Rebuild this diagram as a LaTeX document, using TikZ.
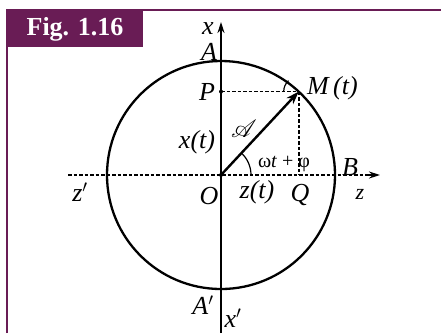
\documentclass[tikz,border=0pt]{standalone}
\usepackage{fontspec}
\usepackage{mathrsfs}
\setmainfont{Liberation Serif}
\usetikzlibrary{arrows.meta}
\definecolor{figpurple}{RGB}{105,28,85}
\begin{document}
\begin{tikzpicture}[x=1pt,y=-1pt,
  lbl/.style={font=\fontsize{26}{28}\selectfont\itshape, inner sep=0pt},
  axisline/.style={line width=1.6pt},
  dotline/.style={line width=1.6pt, dash pattern=on 3.5pt off 2pt},
  tip/.style={-{Stealth[length=11pt,width=7pt]}}]
\useasboundingbox (0,0) rectangle (441,333);
\fill[white] (0,0) rectangle (441,333);
% frame
\draw[figpurple, line width=2.2pt] (7,333) -- (7,10) -- (441,10);
\fill[figpurple] (6,9) rectangle (143,47);
\node[text=white, font=\fontsize{26}{28}\selectfont\bfseries, inner sep=0pt] (title) at (75,29) {Fig. 1.16};
% points
\coordinate (O) at (221,175);
\coordinate (M) at (298.7,91.6);
\coordinate (P) at (221,91.6);
\coordinate (Q) at (298.7,175);
\coordinate (xb) at (221,333);
\coordinate (xt) at (221,22);
\coordinate (zl) at (68,175);
\coordinate (zr) at (380,175);
% circle
\draw[line width=2.3pt] (O) circle[radius=114];
% axes
\draw[axisline, tip] (xb) -- (xt);
\draw[dotline] (zl) -- (366,175);
\draw[line width=1.6pt, tip] (366,175) -- (zr);
% projections
\draw[dotline] (P) -- (M);
\draw[dotline] (M) -- (Q);
\fill (P) circle[radius=2];
\fill (O) circle[radius=2];
% vector
\draw[line width=2.4pt, -{Stealth[length=13pt,width=9pt]}] (O) -- (M);
% angle arcs
\draw[line width=1.2pt] ([shift={(30,0)}]O) arc[start angle=0, end angle=-47, radius=30];
\draw[line width=1.2pt] ([shift={(-15,0)}]M) arc[start angle=180, end angle=227, radius=15];
% labels
\node[lbl] (lx) at (208,29) {x};
\node[lbl] (lA) at (209,52) {A};
\node[lbl] (lP) at (207,92) {P};
\node[lbl, anchor=west] (lM) at (307,88) {M\,(t)};
\node[lbl] (lxt) at (197,142) {x(t)};
\node[inner sep=0pt, font=\fontsize{28}{30}\selectfont] (lvec) at (244,129) {$\mathscr{A}$};
\node[inner sep=0pt, font=\fontsize{20}{22}\selectfont] (lang) at (284,164) {ω\textit{t} + φ};
\node[lbl] (lB) at (350,167) {B};
\node[lbl] (lz1) at (80,192) {z$'$};
\node[lbl] (lO) at (209,196) {O};
\node[lbl] (lzt) at (257,192) {z(t)};
\node[lbl] (lQ) at (300,195) {Q};
\node[lbl, font=\fontsize{22}{24}\selectfont\itshape] (lz) at (360,194) {z};
\node[lbl] (lA1) at (203,305) {A$'$};
\node[lbl] (lx1) at (233,318) {x$'$};
\end{tikzpicture}
\end{document}
